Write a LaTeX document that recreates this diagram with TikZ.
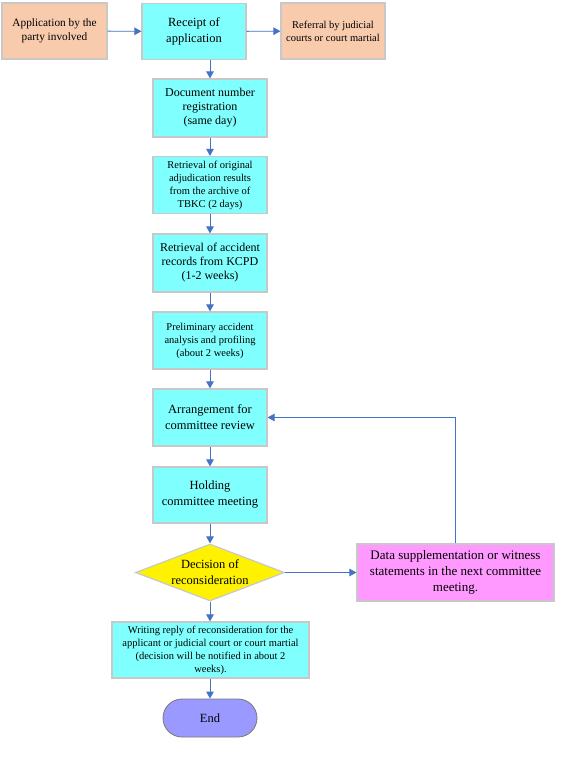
\documentclass[tikz,border=0pt]{standalone}
\usepackage{fontspec}
\setmainfont{Liberation Serif}
\usetikzlibrary{shapes.geometric,arrows.meta}
\definecolor{cyanbox}{HTML}{80FFFF}
\definecolor{peachbox}{HTML}{F8CBAD}
\definecolor{pinkbox}{HTML}{FF99FF}
\definecolor{endbox}{HTML}{9999FF}
\definecolor{edgegray}{HTML}{C8C8C8}
\definecolor{arrowblue}{HTML}{4472C4}
\begin{document}
\begin{tikzpicture}[x=1pt,y=-1pt,
  box/.style={draw=edgegray,line width=1.2pt,inner sep=0pt,align=center,text centered},
  cyanstep/.style={box,fill=cyanbox},
  peachstep/.style={box,fill=peachbox},
  fbig/.style={font=\fontsize{12.5}{16}\selectfont},
  fmid/.style={font=\fontsize{12}{14}\selectfont},
  fapp/.style={font=\fontsize{11.3}{14.5}\selectfont},
  fsmall/.style={font=\fontsize{10.5}{13}\selectfont},
  conn/.style={draw=arrowblue,line width=0.9pt,-{Triangle[length=7pt,width=7.5pt]}}
]
\useasboundingbox (0,0) rectangle (567,759);
\fill[white] (0,0) rectangle (567,759);

\node[peachstep,fapp,minimum width=105pt,minimum height=56pt] (app) at (54.5,31) {Application by the\\party involved};
\node[cyanstep,fbig,minimum width=104pt,minimum height=56pt] (rec) at (194,31.5) {Receipt of\\application};
\node[peachstep,fsmall,minimum width=104pt,minimum height=56pt] (ref) at (333,31) {Referral by judicial\\courts or court martial};

\node[cyanstep,fmid,minimum width=114pt,minimum height=58pt] (doc) at (210,108) {Document number\\registration\\(same day)};
\node[cyanstep,fsmall,minimum width=114pt,minimum height=57pt] (orig) at (210,185) {Retrieval of original\\adjudication results\\from the archive of\\TBKC (2 days)};
\node[cyanstep,fmid,minimum width=114pt,minimum height=58pt] (acc) at (210,263) {Retrieval of accident\\records from KCPD\\(1-2 weeks)};
\node[cyanstep,fsmall,minimum width=114pt,minimum height=57pt] (pre) at (210,340.5) {Preliminary accident\\analysis and profiling\\(about 2 weeks)};
\node[cyanstep,fbig,minimum width=114pt,minimum height=57pt] (arr) at (210,417.5) {Arrangement for\\committee review};
\node[cyanstep,fbig,minimum width=114pt,minimum height=56pt] (hold) at (210,495) {Holding\\committee meeting};

\node[diamond,draw=edgegray,line width=1.2pt,fill=yellow,inner sep=0pt,minimum width=149pt,minimum height=57pt] (dec) at (210,572.5) {};
\node[fbig,align=center] (dectext) at (210,572.5) {Decision of\\reconsideration};

\node[box,fill=pinkbox,font=\fontsize{13}{16}\selectfont,minimum width=197pt,minimum height=57pt] (data) at (455.5,572.5) {Data supplementation or witness\\statements in the next committee\\meeting.};

\node[cyanstep,fsmall,minimum width=197pt,minimum height=56pt] (write) at (210.5,650) {Writing reply of reconsideration for the\\applicant or judicial court or court martial\\(decision will be notified in about 2\\weeks).};

\node[draw=edgegray!60!black,line width=0.8pt,fill=endbox,rounded corners=19pt,minimum width=94pt,minimum height=38pt,inner sep=0pt,fbig] (end) at (210,718) {End};

\draw[conn] (app) -- (rec);
\draw[conn] (rec) -- (ref);
\draw[conn] (rec.south -| doc.north) -- (doc);
\draw[conn] (doc) -- (orig);
\draw[conn] (orig) -- (acc);
\draw[conn] (acc) -- (pre);
\draw[conn] (pre) -- (arr);
\draw[conn] (arr) -- (hold);
\draw[conn] (hold) -- (dec);
\draw[conn] (dec) -- (data);
\draw[conn] (dec.south) -- (write.north -| dec.south);
\draw[conn] (write.south -| end.north) -- (end);
\draw[conn] (data.north) |- (arr.east);
\end{tikzpicture}
\end{document}
